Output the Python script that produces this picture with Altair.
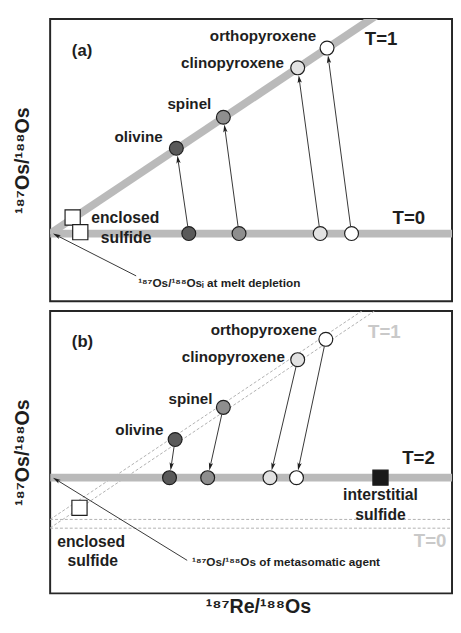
import math
import altair as alt
import pandas as pd

FONT = "Liberation Sans"
INK = "#1e1e1e"
BAND = "#bababa"
FAINT = "#c9c9c9"

W, H = 410, 288
X_DOM = [0, 100]
Y_DOM = [0, 100]
PX = W / (X_DOM[1] - X_DOM[0])
PY = H / (Y_DOM[1] - Y_DOM[0])

minerals = ["olivine", "spinel", "clinopyroxene", "orthopyroxene"]
mineral_fill = ["#5a5a5a", "#8e8e8e", "#e2e2e2", "#ffffff"]

# ---------------- panel (a) ----------------
a_iso_x = [0, 100]
a_t0_line_y = [24.0, 24.0]
a_t1_line_y = [24.0, 119.2]
a_t0_x = [34.5, 47.0, 67.2, 75.0]
a_t0_y = [24.0, 24.0, 24.0, 24.0]
a_t1_x = [31.4, 43.1, 61.6, 68.9]
a_t1_y = [54.2, 65.2, 82.7, 89.7]
a_label_x = [28.0, 40.1, 58.2, 66.2]
a_label_y = [58.3, 69.7, 84.5, 94.1]
a_sulf_x = [5.6, 7.5]
a_sulf_y = [29.7, 24.5]
a_sulf_text = ["enclosed", "sulfide"]
a_sulf_text_x = [18.7, 18.9]
a_sulf_text_y = [29.3, 22.4]
a_T_text = ["T=1", "T=0"]
a_T_x = [78.3, 85.2]
a_T_y = [92.8, 29.3]
a_note = "¹⁸⁷Os/¹⁸⁸Osᵢ at melt depletion"
a_note_from = (21.4, 9.0)
a_note_to = (0.7, 24.0)
a_note_xy = (21.9, 6.6)

# ---------------- panel (b) ----------------
b_iso_x = [0, 100]
b_t2_line_y = [41.0, 41.0]
b_t0_dash_y = [[26.2, 26.2], [23.1, 23.1]]
b_t1_dash_y = [[26.2, 121.4], [23.2, 118.4]]
b_t1_x = [31.1, 43.1, 61.6, 68.6]
b_t1_y = [54.5, 65.9, 82.8, 90.0]
b_t2_x = [29.7, 39.2, 54.7, 61.3]
b_t2_y = [41.0, 41.0, 41.0, 41.0]
b_label_x = [28.2, 40.4, 58.4, 66.4]
b_label_y = [57.9, 69.0, 83.8, 93.4]
b_encl_xy = (7.3, 30.3)
b_inter_xy = (82.2, 41.0)
b_text = ["enclosed", "sulfide", "interstitial", "sulfide"]
b_text_x = [10.2, 10.6, 82.2, 82.2]
b_text_y = [18.3, 11.4, 34.8, 27.9]
b_T_text = ["T=2", "T=1", "T=0"]
b_T_x = [87.6, 79.1, 90.5]
b_T_y = [47.9, 92.4, 18.6]
b_T_col = [INK, FAINT, FAINT]
b_note = "¹⁸⁷Os/¹⁸⁸Os of metasomatic agent"
b_note_from = (34.1, 11.7)
b_note_to = (0.7, 41.0)
b_note_xy = (35.3, 11.0)

HEAD = "M0,-1L0.55,1L0,0.55L-0.55,1Z"
R_CIRCLE = 7.5


def arrow(x0, y0, x1, y1, r0, r1, head=8):
    dxp = (x1 - x0) * PX
    dyp = -(y1 - y0) * PY
    L = math.hypot(dxp, dyp)
    ux, uy = dxp / L, dyp / L
    sx, sy = x0 + ux * r0 / PX, y0 - uy * r0 / PY
    tx, ty = x1 - ux * r1 / PX, y1 + uy * r1 / PY
    hx, hy = tx - ux * (head / 2) / PX, ty + uy * (head / 2) / PY
    ang = math.degrees(math.atan2(ux, -uy)) % 360
    return {"x": sx, "y": sy, "x2": hx, "y2": hy}, {"x": hx, "y": hy, "angle": ang}


def xy(df, xtitle=None, ytitle="¹⁸⁷Os/¹⁸⁸Os"):
    xs = alt.Scale(domain=X_DOM, nice=False, zero=False)
    ys = alt.Scale(domain=Y_DOM, nice=False, zero=False)
    if xtitle:
        xax = alt.Axis(title=xtitle, labels=False, ticks=False, domain=False, grid=False,
                       titleFont=FONT, titleFontSize=20, titleFontWeight="bold",
                       titleColor=INK, titlePadding=4, titleX=212)
    else:
        xax = None
    yax = alt.Axis(title=ytitle, labels=False, ticks=False, domain=False, grid=False,
                   titleFont=FONT, titleFontSize=20, titleFontWeight="bold",
                   titleColor=INK, titlePadding=18)
    return alt.Chart(df).encode(
        x=alt.X("x:Q", scale=xs, axis=xax),
        y=alt.Y("y:Q", scale=ys, axis=yax),
    )


def panel(lines, dashes, arrows_src, points_src, squares, labels, tlabels, note,
          note_from, note_to, note_xy, xtitle=None):
    layers = []
    if dashes:
        rows = []
        for i, (xs_, ys_) in enumerate(dashes):
            for xv, yv in zip(xs_, ys_):
                rows.append({"x": xv, "y": yv, "k": i})
        layers.append(xy(pd.DataFrame(rows), xtitle).mark_line(
            strokeWidth=1, color="#b0b0b0", strokeDash=[3, 2], clip=True).encode(detail="k:N"))
    rows = []
    for i, (xs_, ys_) in enumerate(lines):
        for xv, yv in zip(xs_, ys_):
            rows.append({"x": xv, "y": yv, "k": i})
    layers.append(xy(pd.DataFrame(rows), xtitle).mark_line(
        strokeWidth=8, color=BAND, clip=True).encode(detail="k:N"))
    segs, heads = [], []
    for (x0, y0, x1, y1) in arrows_src:
        s, h = arrow(x0, y0, x1, y1, R_CIRCLE, R_CIRCLE)
        segs.append(s)
        heads.append(h)
    s, h = arrow(note_from[0], note_from[1], note_to[0], note_to[1], 0, 0)
    segs.append(s)
    heads.append(h)
    layers.append(xy(pd.DataFrame(segs), xtitle).mark_rule(strokeWidth=0.9, color=INK).encode(
        x2="x2:Q", y2="y2:Q"))
    layers.append(xy(pd.DataFrame(heads), xtitle).mark_point(
        shape=HEAD, filled=True, color=INK, size=64, opacity=1).encode(
        angle=alt.Angle("angle:Q", scale=None)))
    layers.append(xy(pd.DataFrame(squares), xtitle).mark_square(
        size=240, stroke=INK, strokeWidth=1.2, opacity=1).encode(
        fill=alt.Fill("fill:N", scale=None)))
    layers.append(xy(pd.DataFrame(points_src), xtitle).mark_point(
        shape="circle", filled=True, size=200, stroke=INK, strokeWidth=1.2, opacity=1).encode(
        fill=alt.Fill("mineral:N", scale=alt.Scale(domain=minerals, range=mineral_fill), legend=None)))
    layers.append(xy(pd.DataFrame(labels), xtitle).mark_text(
        align="right", baseline="middle", font=FONT, fontWeight="bold", fontSize=15.5,
        color=INK).encode(text="t:N"))
    tdf = pd.DataFrame(tlabels)
    left = tdf[tdf["align"] == "left"]
    center = tdf[tdf["align"] == "center"]
    layers.append(xy(left, xtitle).mark_text(
        align="left", baseline="middle", font=FONT, fontWeight="bold").encode(
        text="t:N", size=alt.Size("fs:Q", scale=None), color=alt.Color("c:N", scale=None)))
    layers.append(xy(center, xtitle).mark_text(
        align="center", baseline="middle", font=FONT, fontWeight="bold").encode(
        text="t:N", size=alt.Size("fs:Q", scale=None), color=alt.Color("c:N", scale=None)))
    layers.append(xy(pd.DataFrame([{"x": note_xy[0], "y": note_xy[1], "t": note}]), xtitle).mark_text(
        align="left", baseline="middle", font=FONT, fontWeight="bold", fontSize=12,
        color=INK).encode(text="t:N"))
    return alt.layer(*layers).properties(
        width=W, height=H,
        view=alt.ViewBackground(stroke="#262626", strokeWidth=2, fill="white"))


a_lines = [(a_iso_x, a_t0_line_y), (a_iso_x, a_t1_line_y)]
a_arrows = [(a_t0_x[i], a_t0_y[i], a_t1_x[i], a_t1_y[i]) for i in range(4)]
a_points = ([{"x": a_t0_x[i], "y": a_t0_y[i], "mineral": minerals[i]} for i in range(4)] +
            [{"x": a_t1_x[i], "y": a_t1_y[i], "mineral": minerals[i]} for i in range(4)])
a_squares = [{"x": a_sulf_x[i], "y": a_sulf_y[i], "fill": "#ffffff"} for i in range(2)]
a_labels = [{"x": a_label_x[i], "y": a_label_y[i], "t": minerals[i]} for i in range(4)]
a_tl = ([{"x": a_T_x[i], "y": a_T_y[i], "t": a_T_text[i], "fs": 19, "c": INK, "align": "left"} for i in range(2)] +
        [{"x": 5.4, "y": 88.6, "t": "(a)", "fs": 17, "c": INK, "align": "left"}] +
        [{"x": a_sulf_text_x[i], "y": a_sulf_text_y[i], "t": a_sulf_text[i], "fs": 16, "c": INK, "align": "center"} for i in range(2)])
top = panel(a_lines, None, a_arrows, a_points, a_squares, a_labels, a_tl, a_note,
            a_note_from, a_note_to, a_note_xy)

b_lines = [(b_iso_x, b_t2_line_y)]
b_dashes = [(b_iso_x, yy) for yy in b_t0_dash_y] + [(b_iso_x, yy) for yy in b_t1_dash_y]
b_arrows = [(b_t1_x[i], b_t1_y[i], b_t2_x[i], b_t2_y[i]) for i in range(4)]
b_points = ([{"x": b_t1_x[i], "y": b_t1_y[i], "mineral": minerals[i]} for i in range(4)] +
            [{"x": b_t2_x[i], "y": b_t2_y[i], "mineral": minerals[i]} for i in range(4)])
b_squares = [{"x": b_encl_xy[0], "y": b_encl_xy[1], "fill": "#ffffff"},
             {"x": b_inter_xy[0], "y": b_inter_xy[1], "fill": "#1a1a1a"}]
b_labels = [{"x": b_label_x[i], "y": b_label_y[i], "t": minerals[i]} for i in range(4)]
b_tl = ([{"x": b_T_x[i], "y": b_T_y[i], "t": b_T_text[i], "fs": 19, "c": b_T_col[i], "align": "left"} for i in range(3)] +
        [{"x": 5.4, "y": 89.0, "t": "(b)", "fs": 17, "c": INK, "align": "left"}] +
        [{"x": b_text_x[i], "y": b_text_y[i], "t": b_text[i], "fs": 16, "c": INK, "align": "center"} for i in range(4)])
bottom = panel(b_lines, b_dashes, b_arrows, b_points, b_squares, b_labels, b_tl, b_note,
               b_note_from, b_note_to, b_note_xy, xtitle="¹⁸⁷Re/¹⁸⁸Os")

chart = alt.vconcat(top, bottom, spacing=8).properties(
    padding={"left": 4, "top": 4, "right": 0, "bottom": 0}
).configure_view(stroke="#262626", strokeWidth=2)

chart.save("out.html", embed_options={"renderer": "svg", "actions": False})
